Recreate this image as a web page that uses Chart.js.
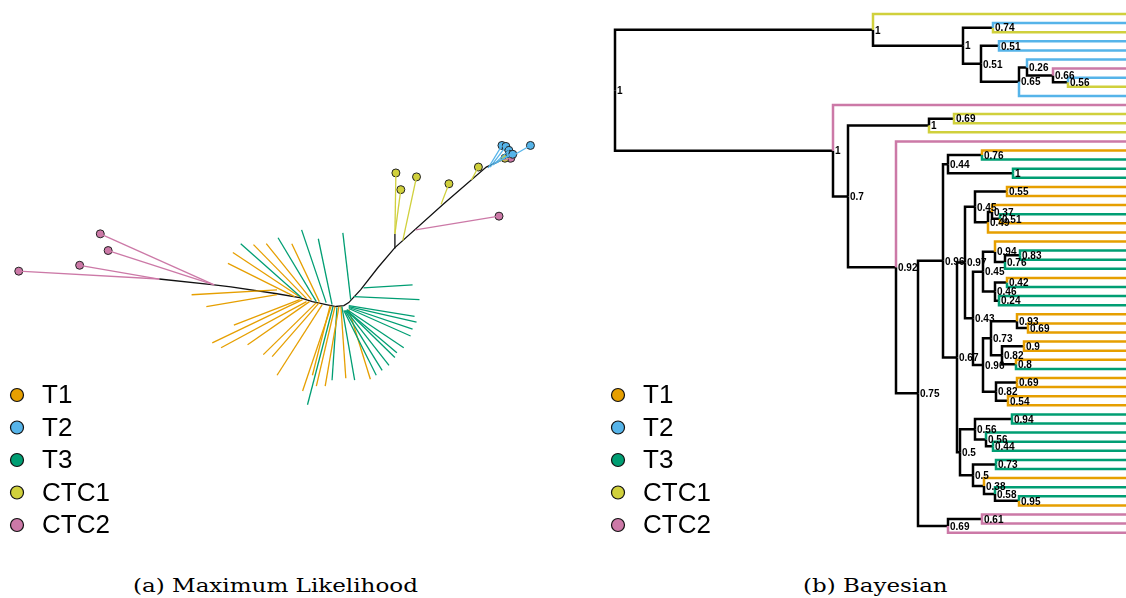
<!DOCTYPE html>
<html>
<head>
<meta charset="utf-8">
<script src="https://cdn.jsdelivr.net/npm/chart.js@4.4.1/dist/chart.umd.min.js"></script>
<style>
  body { margin: 0; background: #fff; width: 1126px; height: 598px; overflow: hidden; position: relative; }
  canvas { position: absolute; top: 0; }
  #ml { left: 0; }
  #bayes { left: 600px; }
  .cap { position: absolute; top: 576px; font-family: "DejaVu Serif", serif; font-size: 19px; line-height: 19px;
         white-space: nowrap; transform-origin: left top; color: #000; }
</style>
</head>
<body>
<canvas id="ml" width="560" height="560" style="width:560px;height:560px"></canvas>
<canvas id="bayes" width="526" height="560" style="width:526px;height:560px"></canvas>
<div class="cap" id="capA">(a) Maximum Likelihood</div>
<div class="cap" id="capB">(b) Bayesian</div>
<script>
// groups
const groups = ['T1', 'T2', 'T3', 'CTC1', 'CTC2'];
const groupColors = ['#e69f00', '#56b4e9', '#009e73', '#d0d03c', '#cc79a7'];

// ---- (a) maximum likelihood, unrooted ----
// black backbone
const mlBackbone = [[157,279],[213,285],[230,287],[277,294],[300,298],[313,302],[327,305],[337,307],
  [345,306],[350,303],[362,290],[380,267],[397,247],[447,202],[490,165],[510,156]];
const mlStems = [[[397,233],[397,248]]];
// tips: group index, base point, tip point
const mlTipGroup = [4,4,4,4, 3,3,3,3,3,4, 1,1,1,1,1,1,3,4,
  2,0,0,0,0,2,0,2,2,2,0,0, 2,2,2,2,2,2,2,2,2,2,2,2,
  0,2,0,0,2,0,0,2,0,0,0,0,0,0,0,0];
const mlTipBase = [[157,279],[157,279],[213,285],[213,285],
  [397,233],[397,233],[405,240],[444,203],[475,178],[418,229],
  [492,166],[494,165],[497,163],[500,161],[505,158],[516,154],[503,159],[508,158],
  [302,298],[300,297],[295,297],[307,299],[312,300],[317,302],[320,302],[327,303],[333,305],[352,300],[277,290],[277,295],
  [365,288],[355,297],[350,306],[350,307],[350,308],[350,309],[348,310],[348,311],[348,311],[347,311],[346,311],[345,311],
  [350,310],[343,307],[342,307],[340,307],[338,308],[336,307],[332,307],[334,307],[331,306],
  [323,305],[320,303],[317,303],[310,302],[307,302],[303,300],[300,300]];
const mlTipEnd = [[14,271],[76,265],[105,250],[97,233],
  [398,171],[403,188],[419,175],[452,182],[482,165],[503,215],
  [506,143],[510,144],[513,148],[514,152],[517,152],[535,143],[509,156],[515,156],
  [240,243],[232,252],[227,263],[253,244],[266,243],[278,237],[292,243],[302,229],[319,238],[344,232],[190,295],[205,307],
  [415,285],[422,300],[417,317],[419,323],[415,330],[413,337],[406,349],[399,354],[397,359],[391,367],[384,372],[378,377],
  [372,381],[356,382],[347,380],[326,388],[333,382],[317,388],[303,393],[308,407],[313,377],
  [277,377],[272,358],[263,356],[247,346],[220,349],[211,344],[233,326]];
const mlDotGroups = [1, 3, 4];

// ---- (b) bayesian, rooted ----
// internal nodes: parent, depth from the root (px), support
const bayesNodeParent = [-1,0,1,2,2,4,4,6,7,8, 0,10,11,12,11,14,15,16,17,17,
  16,20,21,22,22,24,25,21,27,28, 29,30,28,32,32,27,35,36,37,36, 39,39,35,42,42,20,45,46,46,48,
  45,50,50,52,53,15,55];
const bayesNodeDepth = [0,258,348,378,366,384,404,412,438,453, 218,233,314,339,281,303,328,333,367,398,
  342,350,360,392,373,377,385,358,368,380, 390,405,380,392,384,368,376,402,413,387,
  409,401,381,402,393,345,360,397,371,378, 358,381,369,380,404,333,367];
const bayesSupport = ['1','1','1','0.74','0.51','0.51','0.65','0.26','0.66','0.56',
  '1','0.7','1','0.69','0.92','0.75','0.96','0.44','0.76','1',
  '0.67','0.97','0.45','0.55','0.49','0.37','0.51','0.43','0.45','0.94',
  '0.76','0.83','0.46','0.42','0.24','0.96','0.73','0.93','0.69','0.82',
  '0.9','0.8','0.82','0.69','0.54','0.5','0.56','0.94','0.56','0.44',
  '0.5','0.73','0.38','0.58','0.95','0.69','0.61'];
// leaves top to bottom: group index and parent node
const bayesLeafGroup = [3,1,3,1,1,1,4,1,3,1, 4,3,3,3,4,0,2,2,2,0,
  0,0,2,0,0,0,2,2,2,0, 2,2,2,0,0,0,0,0,0,2, 0,0,0,0,2,2,2,2,2,2, 2,0,2,2,0,4,4,4];
const bayesLeafParent = [1,3,3,5,5,7,8,9,9,6, 10,13,13,12,14,18,18,19,19,23,
  23,25,26,26,24,29,31,31,30,33, 33,34,34,37,38,38,40,40,41,41, 43,43,44,44,47,47,48,49,49,51,
  51,52,53,54,54,56,56,55];

// ---------------------------------------------------------------
function legendPlugin(x0) {
  return {
    id: 'groupLegend',
    afterDraw(chart) {
      const ctx = chart.ctx;
      ctx.save();
      ctx.font = '26px "Liberation Sans", Arial, sans-serif';
      ctx.textBaseline = 'middle';
      groups.forEach((g, i) => {
        const y = 395 + i * 32.5;
        ctx.beginPath();
        ctx.arc(x0, y, 6.5, 0, Math.PI * 2);
        ctx.fillStyle = groupColors[i];
        ctx.fill();
        ctx.lineWidth = 1.2;
        ctx.strokeStyle = '#111';
        ctx.stroke();
        ctx.fillStyle = '#000';
        ctx.fillText(g, x0 + 25, y + 1);
      });
      ctx.restore();
    }
  };
}

function seg(points, color, width) {
  return {
    type: 'line',
    data: points.map(p => ({ x: p[0], y: p[1] })),
    borderColor: color,
    borderWidth: width,
    borderJoinStyle: 'miter',
    pointRadius: 0,
    tension: 0,
    fill: false
  };
}

const baseOptions = (xmin, xmax, ymin, ymax) => ({
  responsive: false,
  animation: false,
  layout: { padding: 0 },
  plugins: { legend: { display: false }, tooltip: { enabled: false } },
  scales: {
    x: { type: 'linear', display: false, min: xmin, max: xmax },
    y: { type: 'linear', display: false, min: ymin, max: ymax, reverse: true }
  }
});

// (a)
const mlSets = [];
mlTipGroup.forEach((g, i) => mlSets.push(seg([mlTipBase[i], mlTipEnd[i]], groupColors[g], 1.3)));
mlSets.push(seg(mlBackbone, '#111', 1.3));
mlStems.forEach(s => mlSets.push(seg(s, '#111', 1.3)));
mlDotGroups.forEach(g => {
  const pts = [];
  mlTipGroup.forEach((tg, i) => { if (tg === g) pts.push({ x: mlTipEnd[i][0], y: mlTipEnd[i][1] }); });
  mlSets.push({
    type: 'scatter', data: pts, pointRadius: 4, pointBackgroundColor: groupColors[g],
    pointBorderColor: '#222', pointBorderWidth: 1, showLine: false
  });
});

new Chart(document.getElementById('ml'), {
  type: 'scatter',
  data: { datasets: mlSets },
  options: baseOptions(0, 560, 0, 560),
  plugins: [legendPlugin(17)]
});

// (b)
const nNodes = bayesNodeParent.length;
const kids = Array.from({ length: nNodes }, () => []);
bayesNodeParent.forEach((p, k) => { if (p >= 0) kids[p].push({ leaf: false, k }); });
bayesLeafParent.forEach((p, i) => kids[p].push({ leaf: true, k: i }));
const nodeY = new Array(nNodes);
function calcY(k) {
  const ys = kids[k].map(c => c.leaf ? c.k : calcY(c.k));
  nodeY[k] = (Math.min(...ys) + Math.max(...ys)) / 2;
  return nodeY[k];
}
calcY(0);

const tipDepth = 530;
const bayesSets = [];
bayesLeafParent.forEach((p, i) => {
  const px = bayesNodeDepth[p];
  bayesSets.push(seg([[px, nodeY[p]], [px, i], [tipDepth, i]], groupColors[bayesLeafGroup[i]], 2.5));
});
bayesNodeParent.forEach((p, k) => {
  if (p < 0) return;
  const px = bayesNodeDepth[p];
  bayesSets.push(seg([[px, nodeY[p]], [px, nodeY[k]], [bayesNodeDepth[k], nodeY[k]]], '#000', 2.5));
});

const supportLabels = {
  id: 'supportLabels',
  afterDatasetsDraw(chart) {
    const { ctx, scales: { x, y } } = chart;
    ctx.save();
    ctx.font = 'bold 10px "Liberation Sans", Arial, sans-serif';
    ctx.fillStyle = '#000';
    ctx.textBaseline = 'middle';
    bayesSupport.forEach((s, k) => {
      ctx.fillText(s, x.getPixelForValue(bayesNodeDepth[k]) + 2, y.getPixelForValue(nodeY[k]) + 1);
    });
    ctx.restore();
  }
};

const leafStep = 9.1;
new Chart(document.getElementById('bayes'), {
  type: 'scatter',
  data: { datasets: bayesSets },
  options: baseOptions(-15, 511, -14 / leafStep, (560 - 14) / leafStep),
  plugins: [supportLabels, legendPlugin(18)]
});

// captions
function fitCaption(id, left, width) {
  const el = document.getElementById(id);
  el.style.left = left + 'px';
  el.style.transform = 'scaleX(' + (width / el.offsetWidth) + ')';
}
fitCaption('capA', 133, 285);
fitCaption('capB', 803, 145);
</script>
</body>
</html>
